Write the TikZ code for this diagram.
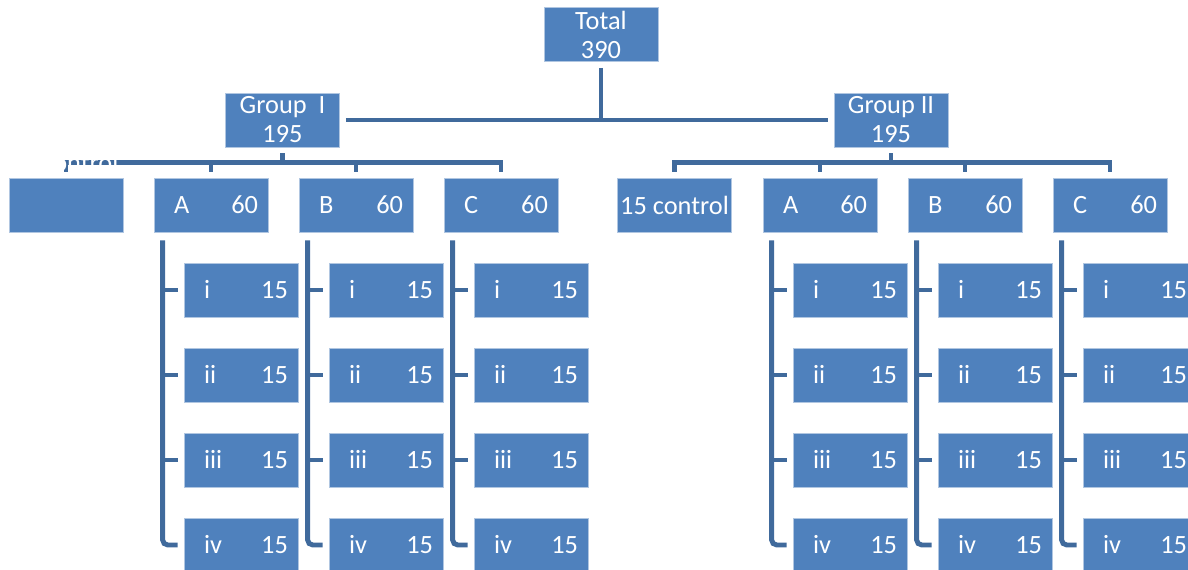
\documentclass[tikz,border=0pt]{standalone}
\usepackage{fontspec}
\setmainfont{Carlito}
\usepackage{tikz}
\usetikzlibrary{calc}

\definecolor{boxblue}{HTML}{4F81BD}
\definecolor{linkblue}{RGB}{64,106,156}

% label left, count right, inside one box
\newcommand{\pair}[2]{\makebox[2.28cm]{\hspace*{0.4cm}#1\hfill#2\hspace*{0.2cm}}}

\begin{document}
\begin{tikzpicture}[x=0.02cm, y=-0.02cm,
		box/.style={fill=boxblue, draw=boxblue!45!white, line width=0.5pt, text=white,
			minimum width=2.28cm, minimum height=1.08cm, inner sep=0pt, align=center,
			font=\fontsize{15}{16.5}\selectfont},
		conn/.style={draw=linkblue, line width=2.8pt}]
		% ---- Page frame (pixel units) ----
		\useasboundingbox (0,0) rectangle (1188,569);
		
		% ---- Top levels ----
		\node[box] (total) at (601,34.5) {Total\\390};
		\node[box] (g1) at (282.5,120) {Group~~I\\195};
		\node[box] (g2) at (891,120) {Group II\\195};
		
		% ---- Second level: control, A, B, C ----
		\node[box] (g1ctl) at (66,205) {};
		\node[box] (g2ctl) at (674.5,205) {15 control};
		\foreach \g/\x in {g1/211, g2/820} {
			\node[box] (\g A) at (\x,205) {\pair{A}{60}};
			\node[box] (\g B) at (\x+145,205) {\pair{B}{60}};
			\node[box] (\g C) at (\x+290,205) {\pair{C}{60}};
		}
		
		% ---- Third level: i..iv under each of A, B, C ----
		\foreach \g/\x in {g1/211, g2/820} {
			\foreach \b [count=\k from 0] in {A,B,C} {
				\foreach \c [count=\j from 0] in {i,ii,iii,iv} {
					\node[box] (\g\b\c) at (\x+145*\k+30, 290+85*\j) {\pair{\c}{15}};
				}
			}
		}
		
		% ---- Connectors: total to groups ----
		\draw[conn] ($(total.south)+(0,6)$) -- (total.south |- g1.east);
		\draw[conn] ($(g1.east)+(6,0)$) -- ($(g2.west)+(-6,0)$);
		
		% ---- Connectors: groups to second level ----
		\foreach \g in {g1,g2} {
			\draw[conn] ($(\g.south)+(0,6)$) -- ++(0,10);
			\draw[conn] ($(\g ctl.north)+(0,-6)$) -- ++(0,-9) -| ($(\g C.north)+(0,-6)$);
			\draw[conn] ($(\g A.north)+(0,-6)$) -- ++(0,-9);
			\draw[conn] ($(\g B.north)+(0,-6)$) -- ++(0,-9);
		}
		
		% ---- Connectors: brackets to third level ----
		\foreach \g in {g1,g2} {
			\foreach \b in {A,B,C} {
				\draw[conn, rounded corners=3pt] ($(\g\b.south west)+(9,8)$) |- ($(\g\b iv.west)+(-6,0)$);
				\foreach \c in {i,ii,iii} {
					\draw[conn] ($(\g\b\c.west)+(-6,0)$) -- ++(-16,0);
				}
			}
		}
		
		% ---- Stray control label over the left bus ----
		\node[text=white, font=\fontsize{15}{16.5}\selectfont, anchor=base, inner sep=0pt] (ghost) at (64,171) {15 control};
		
	\end{tikzpicture}
\end{document}
